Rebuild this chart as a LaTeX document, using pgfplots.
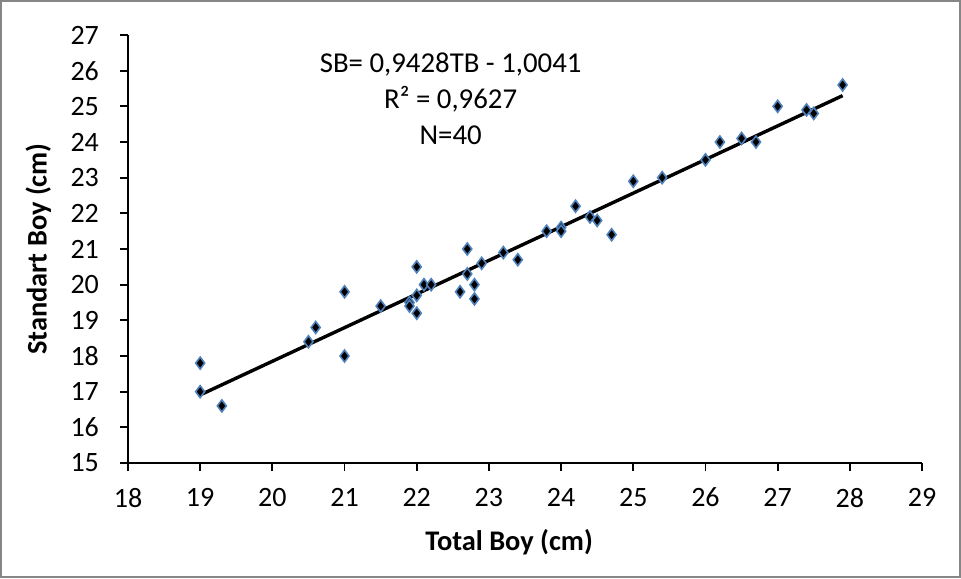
\documentclass[border=0pt]{standalone}
\usepackage{fontspec}
\setmainfont{Carlito}
\usepackage{pgfplots}
\pgfplotsset{compat=1.18}
\definecolor{mkblue}{RGB}{79,129,189}
\definecolor{frame}{RGB}{134,134,134}

\begin{document}
\begin{tikzpicture}
\begin{axis}[scale only axis,width=397pt,height=214pt,
  xmin=18,xmax=29,ymin=15,ymax=27,
  xtick={18,...,29},ytick={15,...,27},
  axis x line*=bottom,axis y line*=left,
  axis line style={-,line width=0.9pt},
  tick style={black,line width=0.9pt},
  tick align=outside,major tick length=4pt,
  /pgf/number format/assume math mode=true,
  tick label style={font=\fontsize{14}{15}\selectfont},
  xticklabel style={yshift=-5pt},
  yticklabel style={xshift=-7pt},
  every axis x label/.style={at={(axis description cs:0.48,-0.185)},anchor=center},
  every axis y label/.style={at={(axis description cs:-0.113,0.5)},anchor=center,rotate=90},
  label style={font=\bfseries\fontsize{14.2}{16}\selectfont},
  xlabel={Total Boy (cm)},ylabel={Standart Boy (cm)}]
\addplot[only marks,mark=diamond*,mark size=3pt,
  mark options={draw=mkblue,fill=black,line width=0.8pt}] coordinates {
  (19.0,17.8)(19.0,17.0)(19.3,16.6)(20.5,18.4)(20.6,18.8)
  (21.0,19.8)(21.0,18.0)(21.5,19.4)(21.9,19.5)(21.9,19.4)
  (22.0,20.5)(22.0,19.7)(22.0,19.2)(22.1,20.0)(22.2,20.0)
  (22.6,19.8)(22.7,21.0)(22.7,20.3)(22.8,20.0)(22.8,19.6)
  (22.9,20.6)(23.2,20.9)(23.4,20.7)(23.8,21.5)(24.0,21.6)
  (24.0,21.5)(24.2,22.2)(24.4,21.9)(24.5,21.8)(24.7,21.4)
  (25.0,22.9)(25.4,23.0)(26.0,23.5)(26.2,24.0)(26.5,24.1)
  (26.7,24.0)(27.0,25.0)(27.4,24.9)(27.5,24.8)(27.9,25.6)};
% trend line SB = 0.9428 TB - 1.0041
\addplot[black,line width=1.7pt] coordinates {(19.0,16.909)(27.9,25.300)};
\node[align=center,font=\fontsize{14.4}{18}\selectfont] at (axis cs:22.47,25.2)
  {SB= 0,9428TB - 1,0041\\R² = 0,9627\\N=40};
\end{axis}
\draw[frame,line width=1pt] (-63.5pt,-57pt) rectangle (416pt,231pt);
\end{tikzpicture}
\end{document}
